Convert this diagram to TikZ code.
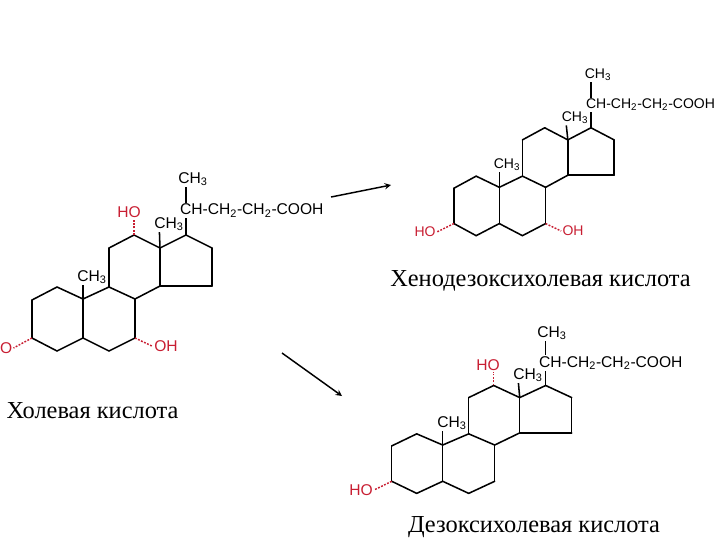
\documentclass[tikz,border=0pt]{standalone}
\usepackage{fontspec}
\setmainfont{Liberation Serif}
\newfontfamily\labelfont{Liberation Sans}
\usepackage{xcolor}
\usetikzlibrary{arrows,positioning,calc}
\definecolor{hydroxyl}{RGB}{200,30,50}

\tikzset{
  bond/.style={line width=1.15pt, black},
  hashbond/.style={line width=1.1pt, hydroxyl, dash pattern=on 1.4pt off 1.1pt},
  group/.style={inner sep=0pt, outer sep=1pt, font=\labelfont\fontsize{#1}{#1}\selectfont},
  redgroup/.style={group=#1, text=hydroxyl},
  caption/.style={inner sep=0pt, font=\fontsize{18.3}{18.3}\selectfont},
  reaction/.style={->, >=stealth, line width=1.1pt}
}

% steroid rings: prefix, position of the ring junction, xscale, yscale
\newcommand{\steroidrings}[5]{
  \begin{scope}[shift={(#2,#3)},xscale=#4,yscale=#5]
  \foreach \atom/\px/\py in {c1/-26/-12,c2/-51/1,c3/-51/39,c4/-26/52,c5/0/39,c6/26/52,c7/52/39,c8/52/0,c9/26/-12,c10/0/0,c11/26/-51,c12/51/-64,c13/77/-51,c14/77/-13,c15/129/-13,c16/129/-51,c17/103/-64}
    \coordinate (#1\atom) at (\px,\py);
  \end{scope}
  \foreach \from/\to in {c1/c2,c2/c3,c3/c4,c4/c5,c5/c10,c10/c1,c5/c6,c6/c7,c7/c8,c8/c9,c9/c10,c9/c11,c11/c12,c12/c13,c13/c14,c14/c8,c13/c17,c17/c16,c16/c15,c15/c14}
    \draw [bond, line cap=round] (#1\from) -- (#1\to);
}

\begin{document}
\begin{tikzpicture}[x=0.75pt,y=-0.75pt]
\useasboundingbox (0,0) rectangle (720,540);

% cholic acid
\steroidrings{a}{83}{299}{1}{1}
\node (amethylA) [group=11.7] at (193,179) {CH\textsubscript{3}};
\node (achain) [group=11.7, anchor=west] at (178.7,210.5) {CH-CH\textsubscript{2}-CH\textsubscript{2}-COOH};
\node (amethylB) [group=11.7] at (169,224) {CH\textsubscript{3}};
\node (amethylC) [group=11.7] at (92,277) {CH\textsubscript{3}};
\node (ahoA) [redgroup=11.7] at (129,212.5) {HO};
\node (ahoB) [redgroup=11.7, anchor=east] at (13.5,348) {O};
\node (aohA) [redgroup=11.7] at (166,346.5) {OH};
\draw [bond] (ac17) -- (ac17 |- achain.south);
\draw [bond] (ac17 |- achain.north) -- (ac17 |- amethylA.south);
\draw [bond] (ac13) -- ($(amethylB.south west)!0.2!(amethylB.south east)$);
\draw [bond] (ac10) -- (ac10 |- amethylC.south);
\draw [hashbond] (ac12) -- (ac12 |- ahoA.south);
\draw [hashbond] (ac3) -- (ahoB.east);
\draw [hashbond] (ac7) -- (aohA.west);
\node (acaption) [caption] at (92.5,410.5) {Холевая кислота};

% chenodeoxycholic acid
\steroidrings{b}{499.3}{187.3}{0.89}{0.93}
\node (bmethylA) [group=10.5] at (598,75) {CH\textsubscript{3}};
\node (bchain) [group=10.5, anchor=west] at (584.7,105) {CH-CH\textsubscript{2}-CH\textsubscript{2}-COOH};
\node (bmethylB) [group=10.5] at (575,118) {CH\textsubscript{3}};
\node (bmethylC) [group=10.5] at (507,165) {CH\textsubscript{3}};
\node (bhoA) [redgroup=10.5] at (425,232) {HO};
\node (bohA) [redgroup=10.5] at (573,231) {OH};
\draw [bond] (bc17) -- (bc17 |- bchain.south);
\draw [bond] (bc17 |- bchain.north) -- (bc17 |- bmethylA.south);
\draw [bond] (bc13) -- ($(bmethylB.south west)!0.2!(bmethylB.south east)$);
\draw [bond] (bc10) -- (bc10 |- bmethylC.south);
\draw [hashbond] (bc3) -- (bhoA.east);
\draw [hashbond] (bc7) -- (bohA.west);
\node (bcaption) [caption] at (540.5,280.5) {Хенодезоксихолевая кислота};

% deoxycholic acid
\steroidrings{c}{442.7}{445}{1}{0.93}
\node (cmethylA) [group=11.7] at (552,333) {CH\textsubscript{3}};
\node (cchain) [group=11.7, anchor=west] at (537.7,363) {CH-CH\textsubscript{2}-CH\textsubscript{2}-COOH};
\node (cmethylB) [group=11.7] at (528,375) {CH\textsubscript{3}};
\node (cmethylC) [group=11.7] at (452,423) {CH\textsubscript{3}};
\node (choA) [redgroup=11.7] at (488,365) {HO};
\node (choB) [redgroup=11.7] at (361,490) {HO};
\draw [bond] (cc17) -- (cc17 |- cchain.south);
\draw [bond] (cc17 |- cchain.north) -- (cc17 |- cmethylA.south);
\draw [bond] (cc13) -- ($(cmethylB.south west)!0.2!(cmethylB.south east)$);
\draw [bond] (cc10) -- (cc10 |- cmethylC.south);
\draw [hashbond] (cc12) -- (cc12 |- choA.south);
\draw [hashbond] (cc3) -- (choB.east);
\node (ccaption) [caption] at (534,527.5) {Дезоксихолевая кислота};

% arrows
\coordinate (arrowAstart) at (331,197);
\coordinate (arrowAend) at (391,185);
\coordinate (arrowBstart) at (282,353);
\coordinate (arrowBend) at (342,396);
\draw [reaction] (arrowAstart) -- (arrowAend);
\draw [reaction] (arrowBstart) -- (arrowBend);
\end{tikzpicture}
\end{document}
